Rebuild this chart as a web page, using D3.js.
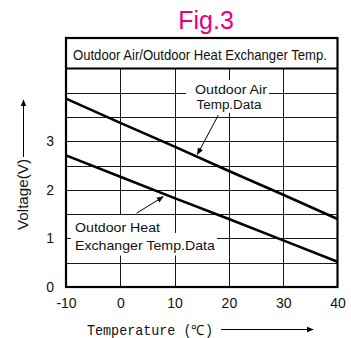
<!DOCTYPE html>
<html><head><meta charset="utf-8">
<script src="https://cdn.jsdelivr.net/npm/d3@7"></script>
<style>
html,body{margin:0;padding:0;background:#fff;}
svg{display:block;}
text{font-family:"Liberation Sans",Arial,sans-serif;fill:#111;}
</style></head>
<body>
<script>
// ---- data ----
const temps = [-10, 0, 10, 20, 30, 40];
const outdoorAir = [3.88, 3.38, 2.89, 2.39, 1.90, 1.40];
const heatExchanger = [2.71, 2.27, 1.83, 1.40, 0.96, 0.52];
const xTicks = [-10, 0, 10, 20, 30, 40];
const yTicks = [0, 1, 2, 3];
const yGrid = [0.5, 1, 1.5, 2, 2.5, 3, 3.5, 4];
const xGrid = [0, 10, 20, 30];
const figTitle = "Fig.3";
const boxTitle = "Outdoor Air/Outdoor Heat Exchanger Temp.";
const airLabel = ["Outdoor Air", "Temp.Data"];
const heLabel = ["Outdoor Heat", "Exchanger Temp.Data"];
const xTitle = "Temperature (℃)";
const yTitle = "Voltage(V)";

const W = 351, H = 338;
const svg = d3.select("body").append("svg").attr("width", W).attr("height", H);

const x = d3.scaleLinear().domain([-10, 40]).range([66, 337.5]);
const y = d3.scaleLinear().domain([0, 4.5]).range([287, 68.5]);

// helper: text squeezed horizontally to a target width via scale transform
function fitText(parent, str, px, py, size, width, family, rotate) {
  const t = parent.append("text").style("font-size", size + "px").text(str);
  if (family) t.style("font-family", family);
  const len = t.node().getComputedTextLength();
  const sx = width / len;
  t.attr("transform", `translate(${px},${py})` + (rotate ? ` rotate(${rotate})` : "") + ` scale(${sx},1)`);
  return t;
}

// defs arrow
const defs = svg.append("defs");
defs.append("marker").attr("id", "ah").attr("viewBox", "0 0 10 10")
  .attr("refX", 9).attr("refY", 5).attr("markerWidth", 7).attr("markerHeight", 7)
  .attr("markerUnits", "userSpaceOnUse").attr("orient", "auto")
  .append("path").attr("d", "M0,1 L10,5 L0,9 Z").attr("fill", "#000");

// gridlines
const g = svg.append("g");
g.selectAll(".hg").data(yGrid).join("line")
  .attr("x1", x(-10)).attr("x2", x(40))
  .attr("y1", d => Math.round(y(d)) + 0.5).attr("y2", d => Math.round(y(d)) + 0.5)
  .attr("stroke", "#1a1a1a").attr("stroke-width", 1);
g.selectAll(".vg").data(xGrid).join("line")
  .attr("y1", y(4.5)).attr("y2", y(0))
  .attr("x1", d => Math.round(x(d)) + 0.5).attr("x2", d => Math.round(x(d)) + 0.5)
  .attr("stroke", "#1a1a1a").attr("stroke-width", 1);

// white label backgrounds
const bg = [
  [186, 80, 83, 17], [190, 97, 76, 16],
  [71, 215, 100, 18], [71, 233, 146, 22.5]
];
svg.selectAll(".bg").data(bg).join("rect")
  .attr("x", d => d[0]).attr("y", d => d[1]).attr("width", d => d[2]).attr("height", d => d[3])
  .attr("fill", "#fff");

// data lines
const line = d3.line().x((d, i) => x(temps[i])).y(d => y(d));
[outdoorAir, heatExchanger].forEach(s => {
  svg.append("path").attr("d", line(s)).attr("fill", "none")
    .attr("stroke", "#000").attr("stroke-width", 2.6);
});

// frame
const fr = svg.append("g").attr("stroke", "#000").attr("stroke-width", 2.2).attr("fill", "none");
fr.append("rect").attr("x", x(-10)).attr("y", 38).attr("width", x(40) - x(-10)).attr("height", y(0) - 38);
fr.append("line").attr("x1", x(-10)).attr("x2", x(40)).attr("y1", y(4.5)).attr("y2", y(4.5));

// title
svg.append("text").attr("x", 206).attr("y", 29).attr("text-anchor", "middle")
  .style("font-size", "25px").style("fill", "#e6007e").text(figTitle);
fitText(svg, boxTitle, 73, 59.5, 15, 254);

// annotations
const airTxt = [[195, 94, 72], [196.5, 109.3, 65]];
airLabel.forEach((t, i) => fitText(svg, t, airTxt[i][0], airTxt[i][1], 13.5, airTxt[i][2]));
const heTxt = [[75, 231.5, 85], [75, 249.5, 140]];
heLabel.forEach((t, i) => fitText(svg, t, heTxt[i][0], heTxt[i][1], 13.5, heTxt[i][2]));

// arrows (data coords)
const arrows = [
  [[18.05, 3.54], [14.2, 2.73]],
  [[3.0, 1.52], [7.9, 1.86]]
];
arrows.forEach(a => {
  svg.append("line").attr("x1", x(a[0][0])).attr("y1", y(a[0][1]))
    .attr("x2", x(a[1][0])).attr("y2", y(a[1][1]))
    .attr("stroke", "#000").attr("stroke-width", 1).attr("marker-end", "url(#ah)");
});

// axes
const xa = svg.append("g").attr("transform", `translate(0,${y(0)})`)
  .call(d3.axisBottom(x).tickValues(xTicks).tickSize(0).tickPadding(11).tickFormat(d => String(d)));
xa.select(".domain").remove();
xa.selectAll("text").style("font-size", "14px").style("font-family", '"Liberation Sans",Arial,sans-serif').attr("fill", "#111");

const ya = svg.append("g").attr("transform", `translate(${x(-10)},0)`)
  .call(d3.axisLeft(y).tickValues(yTicks).tickSize(0).tickPadding(12).tickFormat(d => String(d)));
ya.select(".domain").remove();
ya.selectAll("text").style("font-size", "14px").style("font-family", '"Liberation Sans",Arial,sans-serif').attr("fill", "#111");

// axis titles
fitText(svg, xTitle, 87, 335, 14, 126, '"Liberation Mono","DejaVu Sans Mono",monospace');
svg.append("line").attr("x1", 221).attr("x2", 313).attr("y1", 329.5).attr("y2", 329.5)
  .attr("stroke", "#000").attr("stroke-width", 1).attr("marker-end", "url(#ah)");

fitText(svg, yTitle, 28, 230, 14, 71, null, -90);
svg.append("line").attr("x1", 23.5).attr("x2", 23.5).attr("y1", 157).attr("y2", 100)
  .attr("stroke", "#000").attr("stroke-width", 1).attr("marker-end", "url(#ah)");
</script>
</body></html>
